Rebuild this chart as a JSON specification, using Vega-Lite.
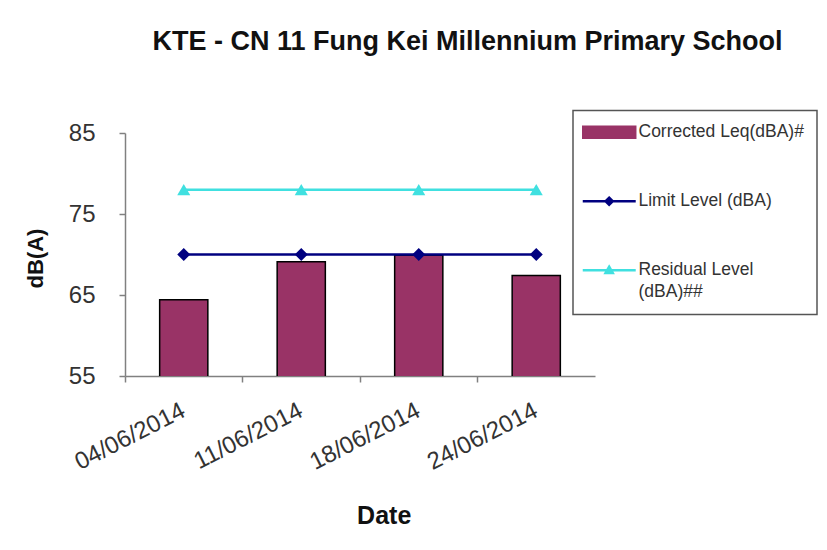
{
  "$schema": "https://vega.github.io/schema/vega-lite/v6.json",
  "width": 470,
  "height": 243,
  "autosize": {"type": "none"},
  "padding": {"left": 125, "top": 133, "right": 232, "bottom": 174},
  "background": "white",
  "config": {"view": {"stroke": null}},
  "title": {
    "text": "KTE - CN 11 Fung Kei Millennium  Primary School",
    "font": "Liberation Sans",
    "fontSize": 27,
    "fontWeight": "bold",
    "color": "#111111",
    "anchor": "middle",
    "frame": "group",
    "dx": 107.5,
    "baseline": "alphabetic",
    "offset": 32.5
  },
  "data": {
    "values": [
      {"date": "04/06/2014", "series": "Corrected Leq(dBA)#", "value": 64.4},
      {"date": "11/06/2014", "series": "Corrected Leq(dBA)#", "value": 69.1},
      {"date": "18/06/2014", "series": "Corrected Leq(dBA)#", "value": 69.9},
      {"date": "24/06/2014", "series": "Corrected Leq(dBA)#", "value": 67.4},
      {"date": "04/06/2014", "series": "Limit Level (dBA)", "value": 70},
      {"date": "11/06/2014", "series": "Limit Level (dBA)", "value": 70},
      {"date": "18/06/2014", "series": "Limit Level (dBA)", "value": 70},
      {"date": "24/06/2014", "series": "Limit Level (dBA)", "value": 70},
      {"date": "04/06/2014", "series": "Residual Level (dBA)##", "value": 78},
      {"date": "11/06/2014", "series": "Residual Level (dBA)##", "value": 78},
      {"date": "18/06/2014", "series": "Residual Level (dBA)##", "value": 78},
      {"date": "24/06/2014", "series": "Residual Level (dBA)##", "value": 78}
    ]
  },
  "encoding": {
    "x": {
      "field": "date",
      "type": "ordinal",
      "sort": null,
      "scale": {"paddingInner": 0, "paddingOuter": 0},
      "axis": {
        "title": "Date",
        "bandPosition": 0,
        "labelAngle": -27,
        "labelAlign": "right",
        "labelBaseline": "middle",
        "labelPadding": 27,
        "labelOverlap": false,
        "labelFont": "Liberation Sans",
        "labelFontSize": 24,
        "labelColor": "#333333",
        "tickSize": 6,
        "tickWidth": 1.5,
        "tickColor": "#808080",
        "domainColor": "#808080",
        "domainWidth": 1.5,
        "grid": false,
        "titleFont": "Liberation Sans",
        "titleFontSize": 25,
        "titleFontWeight": "bold",
        "titleColor": "#111111",
        "titleX": 258.7,
        "titleY": 147,
        "titleBaseline": "alphabetic"
      }
    },
    "y": {
      "field": "value",
      "type": "quantitative",
      "scale": {"domain": [55, 85], "zero": false, "nice": false},
      "axis": {
        "title": "dB(A)",
        "values": [55, 65, 75, 85],
        "grid": false,
        "labelFont": "Liberation Sans",
        "labelFontSize": 24,
        "labelColor": "#333333",
        "labelPadding": 24,
        "tickSize": 6,
        "tickWidth": 1.5,
        "tickColor": "#808080",
        "domainColor": "#808080",
        "domainWidth": 1.5,
        "titleFont": "Liberation Sans",
        "titleFontSize": 22,
        "titleFontWeight": "bold",
        "titleColor": "#111111",
        "titleX": -90,
        "titleY": 125,
        "titleBaseline": "middle"
      }
    }
  },
  "layer": [
    {
      "transform": [{"filter": "datum.series === 'Corrected Leq(dBA)#'"}],
      "mark": {"type": "bar", "width": {"band": 0.41}, "stroke": "black", "strokeWidth": 1.5, "clip": true},
      "encoding": {
        "color": {
          "field": "series",
          "type": "nominal",
          "scale": {
            "domain": ["Corrected Leq(dBA)#", "Limit Level (dBA)", "Residual Level (dBA)##"],
            "range": ["#993366", "#000080", "#40E0E0"]
          },
          "legend": {
            "orient": "none",
            "legendX": 448,
            "legendY": -22.5,
            "title": null,
            "padding": 13,
            "strokeColor": "#555555",
            "fillColor": "white",
            "labelFont": "Liberation Sans",
            "labelFontSize": 17.5,
            "labelColor": "#333333",
            "labelLimit": 400,
            "symbolSize": 144,
            "labelOffset": 35,
            "rowPadding": 50,
            "labelExpr": "datum.label === 'Residual Level (dBA)##' ? ['Residual Level', '(dBA)##'] : datum.label",
            "encode": {
              "legend": {"update": {"strokeWidth": {"value": 1.5}}},
              "labels": {"update": {"lineHeight": {"value": 22}}},
              "symbols": {
                "update": {
                  "shape": {"signal": "datum.value === 'Corrected Leq(dBA)#' ? 'M-2,-1H6.83V1H-2Z' : datum.value === 'Limit Level (dBA)' ? 'M-2,0H6.83M2.4,-0.6L3,0L2.4,0.6L1.8,0Z' : 'M-2,0H6.83M2.4,-0.6L3,0.45L1.8,0.45Z'"},
                  "fill": {"signal": "datum.value === 'Corrected Leq(dBA)#' ? '#993366' : datum.value === 'Limit Level (dBA)' ? '#000080' : '#40E0E0'"},
                  "stroke": {"signal": "datum.value === 'Corrected Leq(dBA)#' ? '#000000' : datum.value === 'Limit Level (dBA)' ? '#000080' : '#40E0E0'"},
                  "strokeWidth": {"signal": "datum.value === 'Corrected Leq(dBA)#' ? 1.5 : 2.5"},
                  "opacity": {"value": 1},
                  "fillOpacity": {"value": 1}
                }
              }
            }
          }
        }
      }
    },
    {
      "transform": [{"filter": "datum.series !== 'Corrected Leq(dBA)#'"}],
      "mark": {"type": "line", "strokeWidth": 2.5},
      "encoding": {
        "color": {
          "field": "series",
          "type": "nominal",
          "legend": {
            "orient": "none",
            "legendX": 448,
            "legendY": -22.5,
            "title": null,
            "padding": 13,
            "strokeColor": "#555555",
            "fillColor": "white",
            "labelFont": "Liberation Sans",
            "labelFontSize": 17.5,
            "labelColor": "#333333",
            "labelLimit": 400,
            "symbolSize": 144,
            "labelOffset": 35,
            "rowPadding": 50,
            "labelExpr": "datum.label === 'Residual Level (dBA)##' ? ['Residual Level', '(dBA)##'] : datum.label",
            "encode": {
              "legend": {"update": {"strokeWidth": {"value": 1.5}}},
              "labels": {"update": {"lineHeight": {"value": 22}}},
              "symbols": {
                "update": {
                  "shape": {"signal": "datum.value === 'Corrected Leq(dBA)#' ? 'M-2,-1H6.83V1H-2Z' : datum.value === 'Limit Level (dBA)' ? 'M-2,0H6.83M2.4,-0.6L3,0L2.4,0.6L1.8,0Z' : 'M-2,0H6.83M2.4,-0.6L3,0.45L1.8,0.45Z'"},
                  "fill": {"signal": "datum.value === 'Corrected Leq(dBA)#' ? '#993366' : datum.value === 'Limit Level (dBA)' ? '#000080' : '#40E0E0'"},
                  "stroke": {"signal": "datum.value === 'Corrected Leq(dBA)#' ? '#000000' : datum.value === 'Limit Level (dBA)' ? '#000080' : '#40E0E0'"},
                  "strokeWidth": {"signal": "datum.value === 'Corrected Leq(dBA)#' ? 1.5 : 2.5"},
                  "opacity": {"value": 1},
                  "fillOpacity": {"value": 1}
                }
              }
            }
          }
        }
      }
    },
    {
      "transform": [{"filter": "datum.series !== 'Corrected Leq(dBA)#'"}],
      "mark": {"type": "point", "filled": true, "opacity": 1, "size": 170},
      "encoding": {
        "color": {
          "field": "series",
          "type": "nominal",
          "legend": {
            "orient": "none",
            "legendX": 448,
            "legendY": -22.5,
            "title": null,
            "padding": 13,
            "strokeColor": "#555555",
            "fillColor": "white",
            "labelFont": "Liberation Sans",
            "labelFontSize": 17.5,
            "labelColor": "#333333",
            "labelLimit": 400,
            "symbolSize": 144,
            "labelOffset": 35,
            "rowPadding": 50,
            "labelExpr": "datum.label === 'Residual Level (dBA)##' ? ['Residual Level', '(dBA)##'] : datum.label",
            "encode": {
              "legend": {"update": {"strokeWidth": {"value": 1.5}}},
              "labels": {"update": {"lineHeight": {"value": 22}}},
              "symbols": {
                "update": {
                  "shape": {"signal": "datum.value === 'Corrected Leq(dBA)#' ? 'M-2,-1H6.83V1H-2Z' : datum.value === 'Limit Level (dBA)' ? 'M-2,0H6.83M2.4,-0.6L3,0L2.4,0.6L1.8,0Z' : 'M-2,0H6.83M2.4,-0.6L3,0.45L1.8,0.45Z'"},
                  "fill": {"signal": "datum.value === 'Corrected Leq(dBA)#' ? '#993366' : datum.value === 'Limit Level (dBA)' ? '#000080' : '#40E0E0'"},
                  "stroke": {"signal": "datum.value === 'Corrected Leq(dBA)#' ? '#000000' : datum.value === 'Limit Level (dBA)' ? '#000080' : '#40E0E0'"},
                  "strokeWidth": {"signal": "datum.value === 'Corrected Leq(dBA)#' ? 1.5 : 2.5"},
                  "opacity": {"value": 1},
                  "fillOpacity": {"value": 1}
                }
              }
            }
          }
        },
        "shape": {
          "field": "series",
          "type": "nominal",
          "scale": {"domain": ["Limit Level (dBA)", "Residual Level (dBA)##"], "range": ["diamond", "triangle-up"]},
          "legend": null
        }
      }
    }
  ]
}
